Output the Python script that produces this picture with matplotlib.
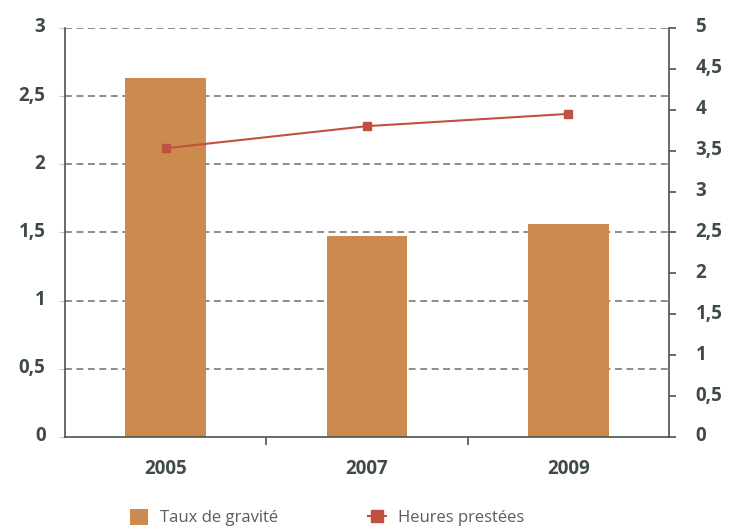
import matplotlib
matplotlib.use("Agg")
import matplotlib.pyplot as plt
import matplotlib.transforms as mtransforms
import numpy as np

years = ["2005", "2007", "2009"]
taux_gravite = [2.63, 1.475, 1.56]
heures_prestees = [3.53, 3.80, 3.95]

left_ticks = [0, 0.5, 1, 1.5, 2, 2.5, 3]
left_labels = ["0", "0,5", "1", "1,5", "2", "2,5", "3"]
right_ticks = [0, 0.5, 1, 1.5, 2, 2.5, 3, 3.5, 4, 4.5, 5]
right_labels = ["0", "0,5", "1", "1,5", "2", "2,5", "3", "3,5", "4", "4,5", "5"]

bar_color = "#CC8A4F"
line_color = "#C0503F"
text_color = "#3F4B48"
axis_color = "#4A5450"

plt.rcParams["font.family"] = ["Open Sans", "DejaVu Sans"]

fig = plt.figure(figsize=(7.4, 5.27), dpi=100)
ax = fig.add_axes([0.0878, 0.1708, 0.8162, 0.7761])
x = np.arange(len(years))
shift_up = mtransforms.ScaledTranslation(0, 3 / 100, fig.dpi_scale_trans)

ax.set_axisbelow(True)
for y in left_ticks[1:]:
    ax.axhline(y, color="#6E6E6E", linestyle=(0, (4.5, 3)), linewidth=1.1, zorder=0)

bars = ax.bar(x, taux_gravite, width=0.4, color=bar_color, zorder=2, label="Taux de gravité")
ax.set_xlim(-0.5, 2.5)
ax.set_ylim(0, 3)
ax.set_yticks(left_ticks)
ax.set_yticklabels(left_labels)
ax.set_xticks(x)
ax.set_xticklabels(years)
ax.set_xticks([0.5, 1.5], minor=True)
ax.tick_params(axis="x", which="major", length=0, pad=16)
ax.tick_params(axis="x", which="minor", length=6, color=axis_color, width=1.2)
ax.tick_params(axis="y", length=4, color="#E8B8B8", pad=10)
for lab in ax.get_xticklabels() + ax.get_yticklabels():
    lab.set_fontsize(13.5)
    lab.set_fontweight("bold")
    lab.set_color(text_color)
for lab in ax.get_yticklabels():
    lab.set_transform(lab.get_transform() + shift_up)

for side in ["top", "right"]:
    ax.spines[side].set_visible(False)
for side in ["left", "bottom"]:
    ax.spines[side].set_color(axis_color)
    ax.spines[side].set_linewidth(1.2)

ax2 = ax.twinx()
ax2.plot(x, heures_prestees, color=line_color, linewidth=1.5, marker="s", markersize=6,
         label="Heures prestées", zorder=3)
ax2.set_ylim(0, 5)
ax2.set_yticks(right_ticks)
ax2.set_yticklabels(right_labels)
ax2.tick_params(axis="y", length=5, color=axis_color, width=1.2, pad=14)
for lab in ax2.get_yticklabels():
    lab.set_fontsize(13.5)
    lab.set_fontweight("bold")
    lab.set_color(text_color)
    lab.set_transform(lab.get_transform() + shift_up)
for side in ["top", "left", "bottom"]:
    ax2.spines[side].set_visible(False)
ax2.spines["right"].set_color(axis_color)
ax2.spines["right"].set_linewidth(1.2)

handles = [bars, ax2.get_lines()[0]]
leg = fig.legend(handles, ["Taux de gravité", "Heures prestées"], loc="center",
                 bbox_to_anchor=(0.442, 0.018), ncol=2, frameon=False, fontsize=12,
                 handlelength=1.1, handleheight=1.1, columnspacing=5.4, handletextpad=0.7,
                 markerscale=1.4)
for t in leg.get_texts():
    t.set_color("#555F5C")

fig.savefig("out.png", dpi=100)
